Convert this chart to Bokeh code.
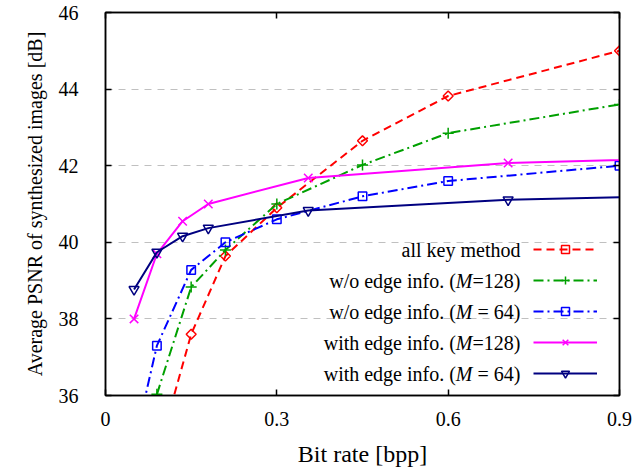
from bokeh.plotting import figure
from bokeh.models import Range1d, FixedTicker, LinearAxis, Legend, LegendItem, Label
from bokeh.core.properties import value
from bokeh.embed import file_html
from bokeh.resources import INLINE
import numpy as np

FONT = "Liberation Serif"

# ---- data ----
x_all = [0.09, 0.15, 0.21, 0.30, 0.45, 0.60, 0.90]
y_all = [34.4, 37.6, 39.64, 40.9, 42.65, 43.82, 45.0]

x_wo128 = [0.09, 0.15, 0.21, 0.30, 0.45, 0.60, 0.90]
y_wo128 = [36.03, 38.83, 39.8, 41.0, 42.02, 42.85, 43.6]

x_wo64 = [0.05, 0.09, 0.15, 0.21, 0.30, 0.45, 0.60, 0.90]
y_wo64 = [34.7, 37.3, 39.28, 40.0, 40.6, 41.2, 41.6, 42.0]

x_w128 = [0.05, 0.09, 0.135, 0.18, 0.355, 0.705, 1.055]
y_w128 = [38.0, 39.7, 40.55, 41.0, 41.68, 42.07, 42.21]

x_w64 = [0.05, 0.09, 0.135, 0.18, 0.355, 0.705, 1.055]
y_w64 = [38.77, 39.74, 40.16, 40.37, 40.83, 41.11, 41.23]

x_ticks = [0, 0.3, 0.6, 0.9]
x_tick_labels = ["0", "0.3", "0.6", "0.9"]
y_ticks = [36, 38, 40, 42, 44, 46]
y_grid = [38, 40, 42, 44]

p = figure(width=636, height=470, output_backend="svg", toolbar_location=None,
           x_range=Range1d(0, 0.9), y_range=Range1d(36, 46),
           min_border_left=105, min_border_right=17, min_border_top=12,
           min_border_bottom=75)
p.background_fill_color = "white"
p.border_fill_color = "white"
p.outline_line_color = "black"
p.outline_line_width = 1.5

p.xgrid.visible = False
p.ygrid.ticker = FixedTicker(ticks=y_grid)
p.ygrid.grid_line_color = "#c0c0c0"
p.ygrid.grid_line_dash = "7 6"
p.ygrid.grid_line_width = 1


def style_axis(ax, ticks, show_labels=True):
    ax.ticker = FixedTicker(ticks=ticks)
    ax.major_tick_in = 6
    ax.major_tick_out = 0
    ax.minor_tick_in = 0
    ax.minor_tick_out = 0
    ax.axis_line_color = "black"
    ax.axis_line_width = 1.5
    ax.major_tick_line_color = "black"
    ax.major_tick_line_width = 1.5
    ax.major_label_text_font = FONT
    if show_labels:
        ax.major_label_text_font_size = "20px"
        ax.major_label_text_color = "black"
    else:
        ax.major_label_text_font_size = "1px"
        ax.major_label_text_color = None
        ax.major_label_standoff = 0


xa = p.xaxis[0]
style_axis(xa, x_ticks)
xa.major_label_overrides = {t: l for t, l in zip(x_ticks, x_tick_labels)}
xa.major_label_standoff = 16
xa.axis_label = "Bit rate [bpp]"
xa.axis_label_text_font = FONT
xa.axis_label_text_font_size = "24px"
xa.axis_label_text_font_style = "normal"
xa.axis_label_text_color = "black"
xa.axis_label_standoff = 12

ya = p.yaxis[0]
style_axis(ya, y_ticks)
ya.major_label_standoff = 27
ya.axis_label = "Average PSNR of synthesized images [dB]"
ya.axis_label_text_font = FONT
ya.axis_label_text_font_size = "20px"
ya.axis_label_text_font_style = "normal"
ya.axis_label_text_color = "black"
ya.axis_label_standoff = 10

top = LinearAxis()
style_axis(top, x_ticks, show_labels=False)
p.add_layout(top, "above")
right = LinearAxis()
style_axis(right, y_ticks, show_labels=False)
p.add_layout(right, "right")

series = [
    (x_all, y_all, "#ff0000", "8 5", "square", 7, np.pi / 4),
    (x_wo128, y_wo128, "#00a000", "10 4 2 4", "cross", 11, 0),
    (x_wo64, y_wo64, "#0000ff", "10 4 2 4", "square", 8.5, 0),
    (x_w128, y_w128, "#ff00ff", "solid", "x", 12, 0),
    (x_w64, y_w64, "#000080", "solid", "inverted_triangle", 10, 0),
]

items = []
for xs, ys, col, dash, mk, sz, ang in series:
    lr = p.line(xs, ys, line_color=col, line_width=2, line_dash=dash)
    sr = p.scatter(xs, ys, marker=mk, size=sz, angle=ang, fill_color=None,
                   line_color=col, line_width=1.5)
    items.append(LegendItem(label=value(" "), renderers=[lr, sr]))

legend = Legend(items=items, location=(428, 11.7), glyph_width=64,
                glyph_height=20, label_height=20, label_width=0,
                label_standoff=0, spacing=11, padding=0, margin=0,
                border_line_alpha=0, background_fill_alpha=0,
                label_text_font_size="1px", label_text_color=None,
                label_text_alpha=0)
p.add_layout(legend)

# legend texts (right aligned, left of the legend samples)
legend_rows = [
    ("all key method", None, None),
    ("w/o edge info. (", "M", "=128)"),
    ("w/o edge info. (", "M", "= 64)"),
    ("with edge info. (", "M", "=128)"),
    ("with edge info. (", "M", "= 64)"),
]
row_y = [39.80, 38.98, 38.17, 37.36, 36.57]
text_x = 0.7266
W_RIGHT = 47.94
W_M = 16.66


def add_label(txt, y, off, style="normal"):
    p.add_layout(Label(x=text_x, y=y, x_offset=off, text=txt,
                       text_align="right", text_baseline="middle",
                       text_font=FONT, text_font_size="20px",
                       text_font_style=style, text_color="black"))


for (left, mid, rgt), y in zip(legend_rows, row_y):
    if mid is None:
        add_label(left, y, 0)
    else:
        add_label(rgt, y, 0)
        add_label(mid, y, -W_RIGHT, "italic")
        add_label(left, y, -(W_RIGHT + W_M))

open("out.html", "w").write(file_html(p, INLINE))
